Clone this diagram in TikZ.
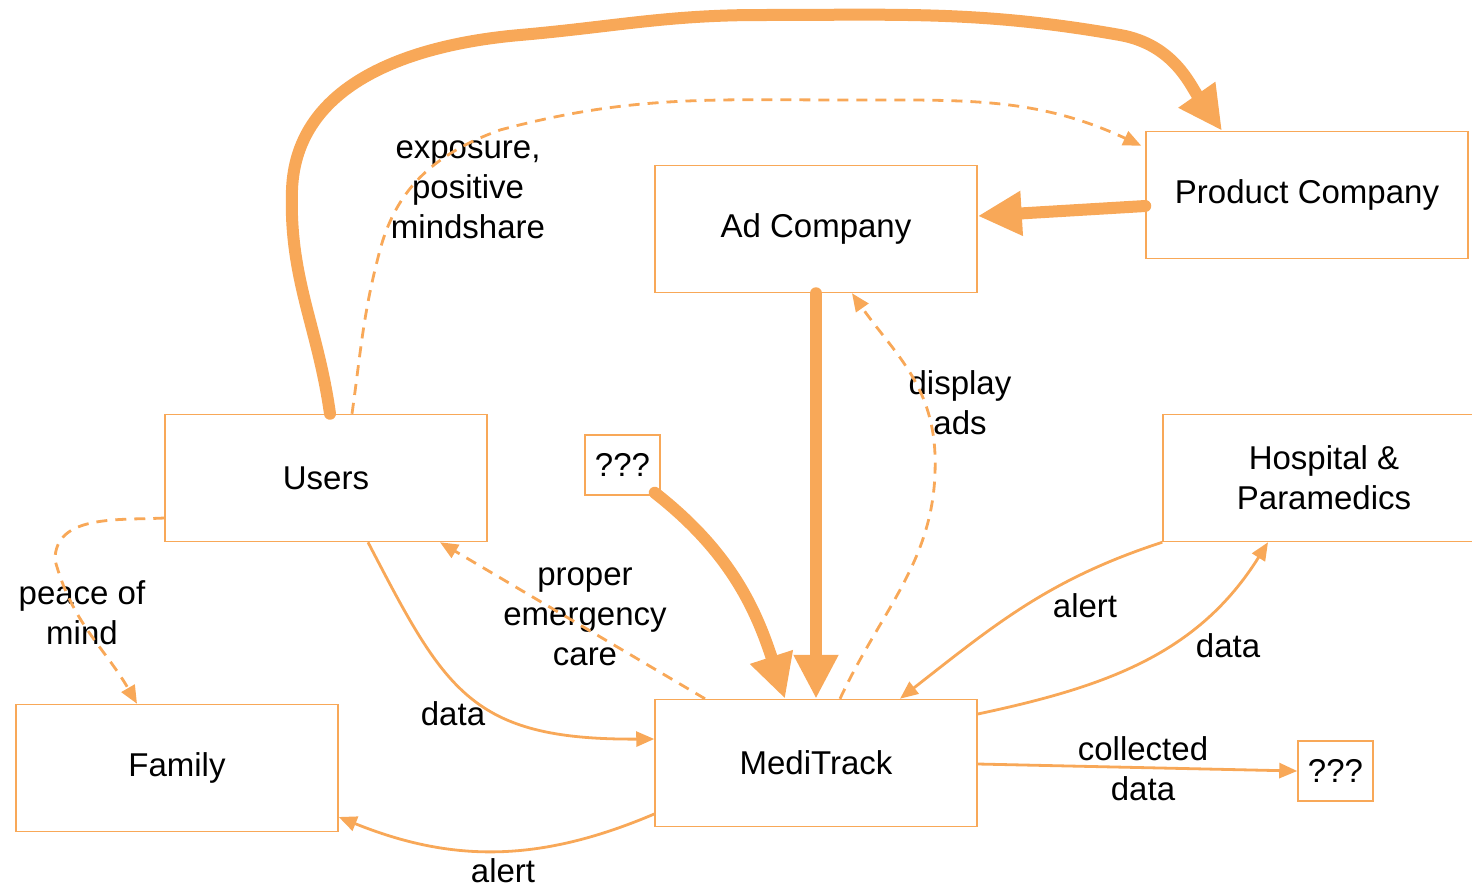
\documentclass[tikz,border=0pt]{standalone}
\usepackage{fontspec}
\setsansfont{Liberation Sans}
\usetikzlibrary{arrows.meta}
\definecolor{FlowOrange}{RGB}{248,168,88}

\begin{document}
\begin{tikzpicture}[font=\sffamily\fontsize{33}{40}\selectfont,
    x=1pt,y=-1pt,
    box/.style={draw=FlowOrange,line width=1.5pt,align=center,
            inner sep=0pt,minimum width=322pt,minimum height=127pt},
    small box/.style={draw=FlowOrange,line width=1.5pt,
            inner sep=0pt,minimum width=75pt,minimum height=60pt},
    heavy/.style={draw=FlowOrange,line width=12pt,line cap=round,
            -{Triangle[length=44pt,width=42pt]}},
    light/.style={draw=FlowOrange,line width=2.8pt,
            -{Triangle[length=18pt,width=15pt]}},
    hint/.style={light,dash pattern=on 11pt off 8pt},
    lbl/.style={align=center}]
    \useasboundingbox (0,0) rectangle (1472,892);
    % boxes
    \node[box] (users) at (326,478) {Users};
    \node[box] (family) at (177,768) {Family};
    \node[box] (medi) at (816,763) {MediTrack};
    \node[box] (ad) at (816,229) {Ad Company};
    \node[box] (product) at (1307,195) {Product Company};
    \node[box] (hospital) at (1324,478) {Hospital \&\\ Paramedics};
    \node[small box] (unknownA) at (622.5,465) {???};
    \node[small box] (unknownB) at (1335.5,771) {???};
    % labels
    \node[lbl] (lexpo) at (468,190) {exposure,\\ positive\\ mindshare};
    \node[lbl] (lads) at (960,403) {display\\ ads};
    \node[lbl] (lcare) at (585,617) {proper\\ emergency\\ care};
    \node[lbl] (lpeace) at (82,613) {peace of\\ mind};
    \node[lbl] (ldataA) at (453,714) {data};
    \node[lbl] (lalertA) at (503,871) {alert};
    \node[lbl] (lalertB) at (1085,606) {alert};
    \node[lbl] (ldataB) at (1228,646) {data};
    \node[lbl] (lcoll) at (1143,769) {collected\\ data};
    % thick flows
    \draw[heavy] ([xshift=4pt]users.north) to[out=98,in=-92] (292,190)
        to[out=88,in=185] (520,35) to[out=5,in=180] (760,15)
        to[out=0,in=170] (1120,35) to[out=-10,in=125] ([xshift=-85pt]product.north);
    \draw[heavy] ([yshift=-11pt]product.west) -- ([yshift=13pt]ad.east);
    \draw[heavy] (ad.south) -- (medi.north);
    \draw[heavy] ([xshift=-6pt,yshift=3pt]unknownA.south east)
        to[out=-38,in=108] ([xshift=-31pt]medi.north);
    % dashed
    \draw[hint] ([xshift=26pt]users.north) to[out=82,in=-105] (380,250)
        to[out=75,in=200] (500,130) to[out=15,in=180] (850,100)
        to[out=0,in=155] ([shift={(-4pt,-15pt)}]product.north west);
    \draw[hint] ([xshift=24pt]medi.north) to[out=65,in=-88] (935,455)
        to[out=92,in=-55] ([xshift=36pt]ad.south);
    \draw[hint] ([xshift=-111pt]medi.north) -- ([xshift=114pt]users.south);
    \draw[hint] ([yshift=-40pt]users.west) to[out=183,in=90] (55,560)
        to[out=-75,in=120] ([xshift=-40pt]family.north);
    % thin
    \draw[light] ([xshift=42pt]users.south) .. controls (445,690) and (470,740)
        .. ([yshift=24pt]medi.west);
    \draw[light] ([yshift=-51pt]medi.west) to[out=203,in=-22] ([yshift=-49pt]family.east);
    \draw[light] (hospital.south west) to[out=198,in=38] ([xshift=84pt]medi.north);
    \draw[light] ([yshift=49pt]medi.east) to[out=12,in=-122] ([xshift=-56pt]hospital.south);
    \draw[light] ([yshift=-1pt]medi.east) -- (unknownB.west);
\end{tikzpicture}
\end{document}
